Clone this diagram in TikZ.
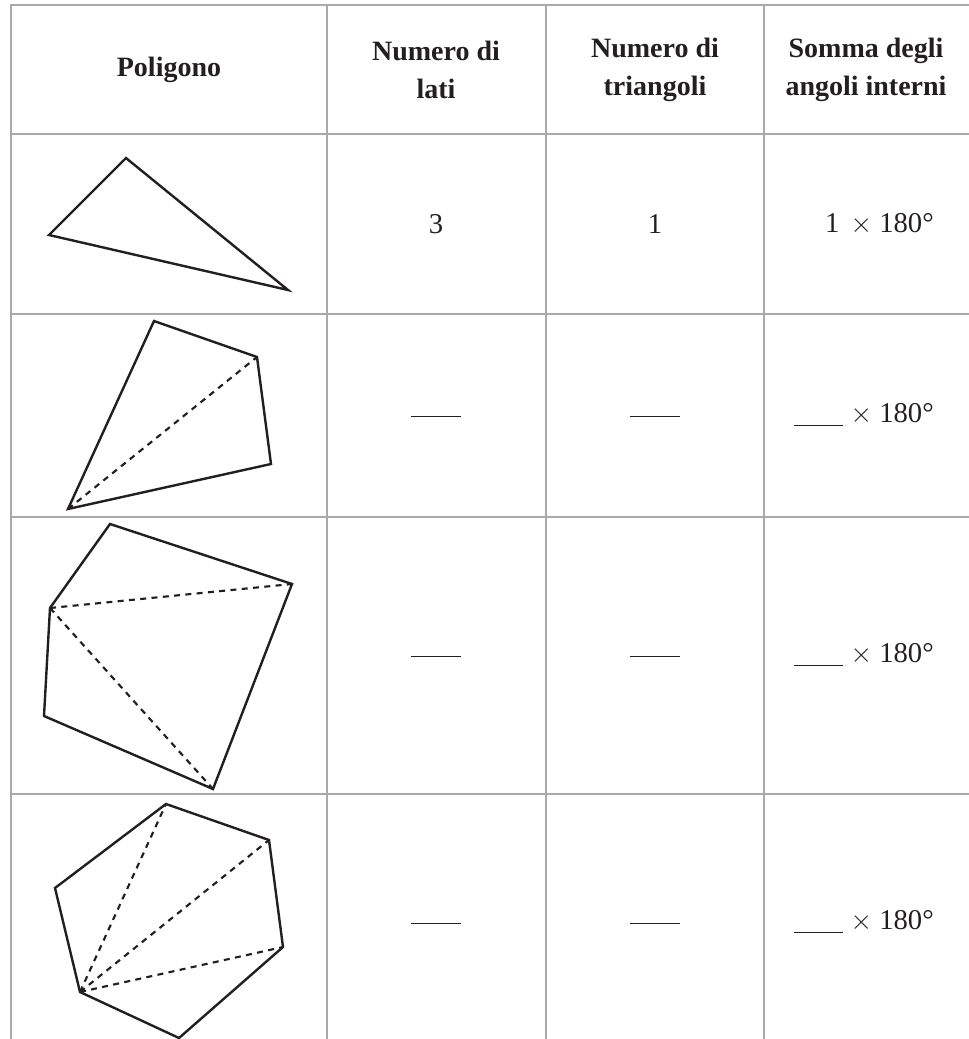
\documentclass[tikz,border=0pt]{standalone}
\usepackage{fontspec}
\setmainfont{Liberation Serif}
\definecolor{gridgray}{HTML}{A8A9AD}
\definecolor{ink}{HTML}{231F20}
\newcommand{\blankline}{\rule[-2.5pt]{37pt}{0.8pt}}
\begin{document}
\begin{tikzpicture}[x=0.75pt,y=-0.75pt,
  gridline/.style={draw=gridgray,line width=2.1pt},
  poly/.style={draw=ink,line width=1.8pt,line join=miter},
  diag/.style={draw=ink,line width=1.6pt,dash pattern=on 4.5pt off 4pt},
  head/.style={font=\bfseries\fontsize{21}{28}\selectfont,align=center,text=ink,inner sep=0pt},
  cell/.style={font=\fontsize{21.5}{25}\selectfont,text=ink,inner sep=0pt}]
\useasboundingbox (0,0) rectangle (969,1039);
% grid
\draw[gridline] (969,5) -- (11,5) -- (11,1039);
\foreach \yy in {134,314,517,794}{\draw[gridline] (11,\yy) -- (969,\yy);}
\foreach \xx in {327,546,764}{\draw[gridline] (\xx,5) -- (\xx,1039);}
% headers
\node[head] (h1) at (169,70) {Poligono};
\node[head] (h2) at (436,70) {Numero di\\lati};
\node[head] (h3) at (655,70) {Numero di\\triangoli};
\node[head] (h4) at (866,70) {Somma degli\\angoli interni};
% row 1
\node[cell] (r1a) at (436,224) {3};
\node[cell] (r1b) at (655,224) {1};
\node[cell,anchor=east] (r1c) at (934,224) {1\hspace{3pt} $\times$ 180°};
% row 2
\node[cell] (r2a) at (436,415) {\blankline};
\node[cell] (r2b) at (655,415) {\blankline};
\node[cell,anchor=east] (r2c) at (934,415) {\blankline\ $\times$ 180°};
% row 3
\node[cell] (r3a) at (436,655) {\blankline};
\node[cell] (r3b) at (655,655) {\blankline};
\node[cell,anchor=east] (r3c) at (934,655) {\blankline\ $\times$ 180°};
% row 4
\node[cell] (r4a) at (436,922) {\blankline};
\node[cell] (r4b) at (655,922) {\blankline};
\node[cell,anchor=east] (r4c) at (934,922) {\blankline\ $\times$ 180°};
% triangle
\coordinate (t1) at (126,158);
\coordinate (t2) at (49,235);
\coordinate (t3) at (288,290);
\draw[poly] (t1) -- (t2) -- (t3) -- cycle;
% quadrilateral
\coordinate (q1) at (154,321);
\coordinate (q2) at (257,357);
\coordinate (q3) at (271,464);
\coordinate (q4) at (68,509);
\draw[poly] (q1) -- (q2) -- (q3) -- (q4) -- cycle;
\draw[diag] (q4) -- (q2);
% pentagon
\coordinate (p1) at (110,524);
\coordinate (p2) at (292,584);
\coordinate (p3) at (213,789);
\coordinate (p4) at (44,716);
\coordinate (p5) at (50,608);
\draw[poly] (p1) -- (p2) -- (p3) -- (p4) -- (p5) -- cycle;
\draw[diag] (p5) -- (p2);
\draw[diag] (p5) -- (p3);
% hexagon
\coordinate (x1) at (166,804);
\coordinate (x2) at (269,840);
\coordinate (x3) at (283,947);
\coordinate (x4) at (179,1038);
\coordinate (x5) at (80,992);
\coordinate (x6) at (55,888);
\draw[poly] (x1) -- (x2) -- (x3) -- (x4) -- (x5) -- (x6) -- cycle;
\draw[diag] (x5) -- (x1);
\draw[diag] (x5) -- (x2);
\draw[diag] (x5) -- (x3);
\end{tikzpicture}
\end{document}
